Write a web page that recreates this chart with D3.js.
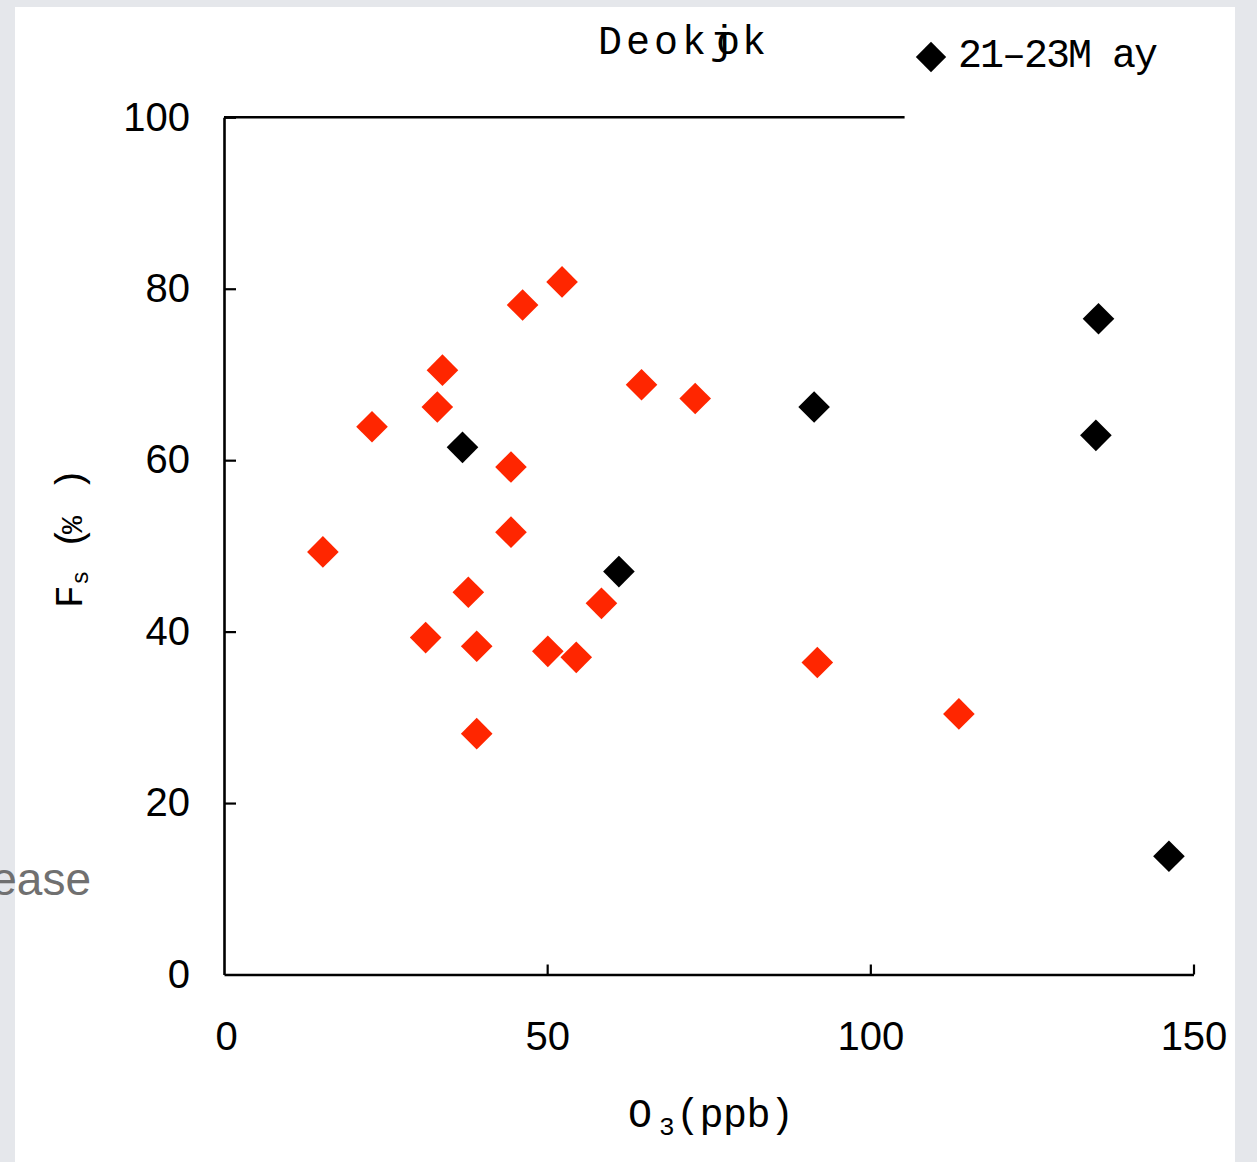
<!DOCTYPE html>
<html>
<head>
<meta charset="utf-8">
<script src="https://cdn.jsdelivr.net/npm/d3@7"></script>
<style>
  html, body { margin: 0; padding: 0; background: #e5e7eb; }
  svg { display: block; }
</style>
</head>
<body>
<svg id="chart" width="1257" height="1162"></svg>
<script>
// O3 (ppb) and Fs (%) — all other sampling days (red)
const o3Other = [15.3, 22.9, 31.2, 33.0, 33.8, 37.8, 39.1, 39.1, 44.4, 44.4, 46.2, 50.1, 52.3, 54.5, 58.4, 64.6, 72.9, 91.8, 113.7];
const fsOther = [49.3, 63.9, 39.3, 66.2, 70.5, 44.6, 38.3, 28.1, 59.2, 51.6, 78.1, 37.7, 80.8, 37.0, 43.3, 68.8, 67.2, 36.4, 30.4];

// O3 (ppb) and Fs (%) — 21–23 May episode (black)
const o3May = [36.9, 61.1, 91.3, 135.3, 134.9, 146.2];
const fsMay = [61.5, 47.0, 66.2, 76.5, 62.9, 13.8];

// Axis ticks
const xTicks = [0, 50, 100, 150];
const yTicks = [0, 20, 40, 60, 80, 100];

const svg = d3.select("#chart");

// page panel
svg.append("rect").attr("x", 0).attr("y", 0).attr("width", 1257).attr("height", 1162).attr("fill", "#e5e7eb");
svg.append("rect").attr("x", 15).attr("y", 7).attr("width", 1220).attr("height", 1155).attr("fill", "#ffffff");

// fragment of neighbouring text at the left margin
svg.append("text")
  .attr("x", 91).attr("y", 895)
  .attr("text-anchor", "end")
  .attr("font-family", "Liberation Sans, Arial, sans-serif")
  .attr("font-size", 46)
  .attr("fill", "#707070")
  .text("ease");

const x = d3.scaleLinear().domain([0, 150]).range([224, 1193.5]);
const y = d3.scaleLinear().domain([0, 100]).range([974.5, 117.3]);

const axisFont = "Liberation Sans, Arial, sans-serif";

// x axis: ticks point inward
const gx = svg.append("g")
  .attr("transform", `translate(0,${y(0)})`)
  .call(d3.axisBottom(x).tickValues(xTicks).tickSizeInner(-10).tickSizeOuter(0).tickPadding(47).tickFormat(d3.format("d")));

// y axis: ticks point inward
const gy = svg.append("g")
  .attr("transform", `translate(${x(0)},0)`)
  .call(d3.axisLeft(y).tickValues(yTicks).tickSizeInner(-12).tickSizeOuter(0).tickPadding(34).tickFormat(d3.format("d")));

[gx, gy].forEach(g => {
  g.select(".domain").attr("stroke", "#000").attr("stroke-width", 2.6);
  g.selectAll(".tick line").attr("stroke", "#000").attr("stroke-width", 2.2);
  g.selectAll(".tick text").attr("font-family", axisFont).attr("font-size", 40).attr("fill", "#000");
});
gx.selectAll(".tick").filter(d => d === 0).select("line").remove();
gx.selectAll(".tick").filter(d => d === 0).select("text").attr("dx", 2);
gy.selectAll(".tick").filter(d => d === 0).select("line").remove();

// top frame line, interrupted before the legend
svg.append("line")
  .attr("x1", x(0)).attr("x2", x(105.3))
  .attr("y1", y(100)).attr("y2", y(100))
  .attr("stroke", "#000").attr("stroke-width", 2.6);

// diamond markers (square rotated 45°)
const diamond = d3.symbol().type(d3.symbolSquare).size(500);

const otherData = o3Other.map((v, i) => ({ o3: v, fs: fsOther[i] }));
const mayData = o3May.map((v, i) => ({ o3: v, fs: fsMay[i] }));

svg.append("g").selectAll("path")
  .data(otherData)
  .join("path")
  .attr("d", diamond)
  .attr("transform", d => `translate(${x(d.o3)},${y(d.fs)}) rotate(45)`)
  .attr("fill", "#ff2600");

svg.append("g").selectAll("path")
  .data(mayData)
  .join("path")
  .attr("d", diamond)
  .attr("transform", d => `translate(${x(d.o3)},${y(d.fs)}) rotate(45)`)
  .attr("fill", "#000");

const mono = "Liberation Mono, 'Courier New', monospace";

// title: glyphs placed individually, "j" and "o" share a cell
svg.append("text")
  .attr("x", "598 626 654 682 710 716 742")
  .attr("y", 54)
  .attr("font-family", mono).attr("font-size", 40)
  .attr("fill", "#000")
  .text("Deokjok");

// legend
svg.append("path")
  .attr("d", d3.symbol().type(d3.symbolSquare).size(460))
  .attr("transform", "translate(931,57) rotate(45)")
  .attr("fill", "#000");
svg.append("text")
  .attr("x", 958).attr("y", 67)
  .attr("font-family", mono).attr("font-size", 40)
  .attr("letter-spacing", -2)
  .attr("fill", "#000")
  .text("21–23M ay");

// x axis title: O3 (ppb)
const xt = svg.append("text")
  .attr("y", 1127)
  .attr("font-family", mono).attr("font-size", 40)
  .attr("fill", "#000");
xt.append("tspan").attr("x", 628).text("O");
xt.append("tspan").attr("x", 659).attr("dy", 8).attr("font-size", 26).text("3");
xt.append("tspan").attr("x", 676).attr("dy", -8).attr("letter-spacing", -0.5).text("(ppb)");

// y axis title: Fs (%)
const yt = svg.append("text")
  .attr("transform", "translate(82,608) rotate(-90)")
  .attr("font-family", mono).attr("font-size", 38)
  .attr("fill", "#000");
yt.append("tspan").attr("x", 0).text("F");
yt.append("tspan").attr("x", 23).attr("dy", 6).attr("font-size", 24).text("s");
yt.append("tspan").attr("x", 59).attr("dy", -6).text("(");
yt.append("tspan").attr("x", 74).attr("font-size", 30).text("%");
yt.append("tspan").attr("x", 117).text(")");
</script>
</body>
</html>
